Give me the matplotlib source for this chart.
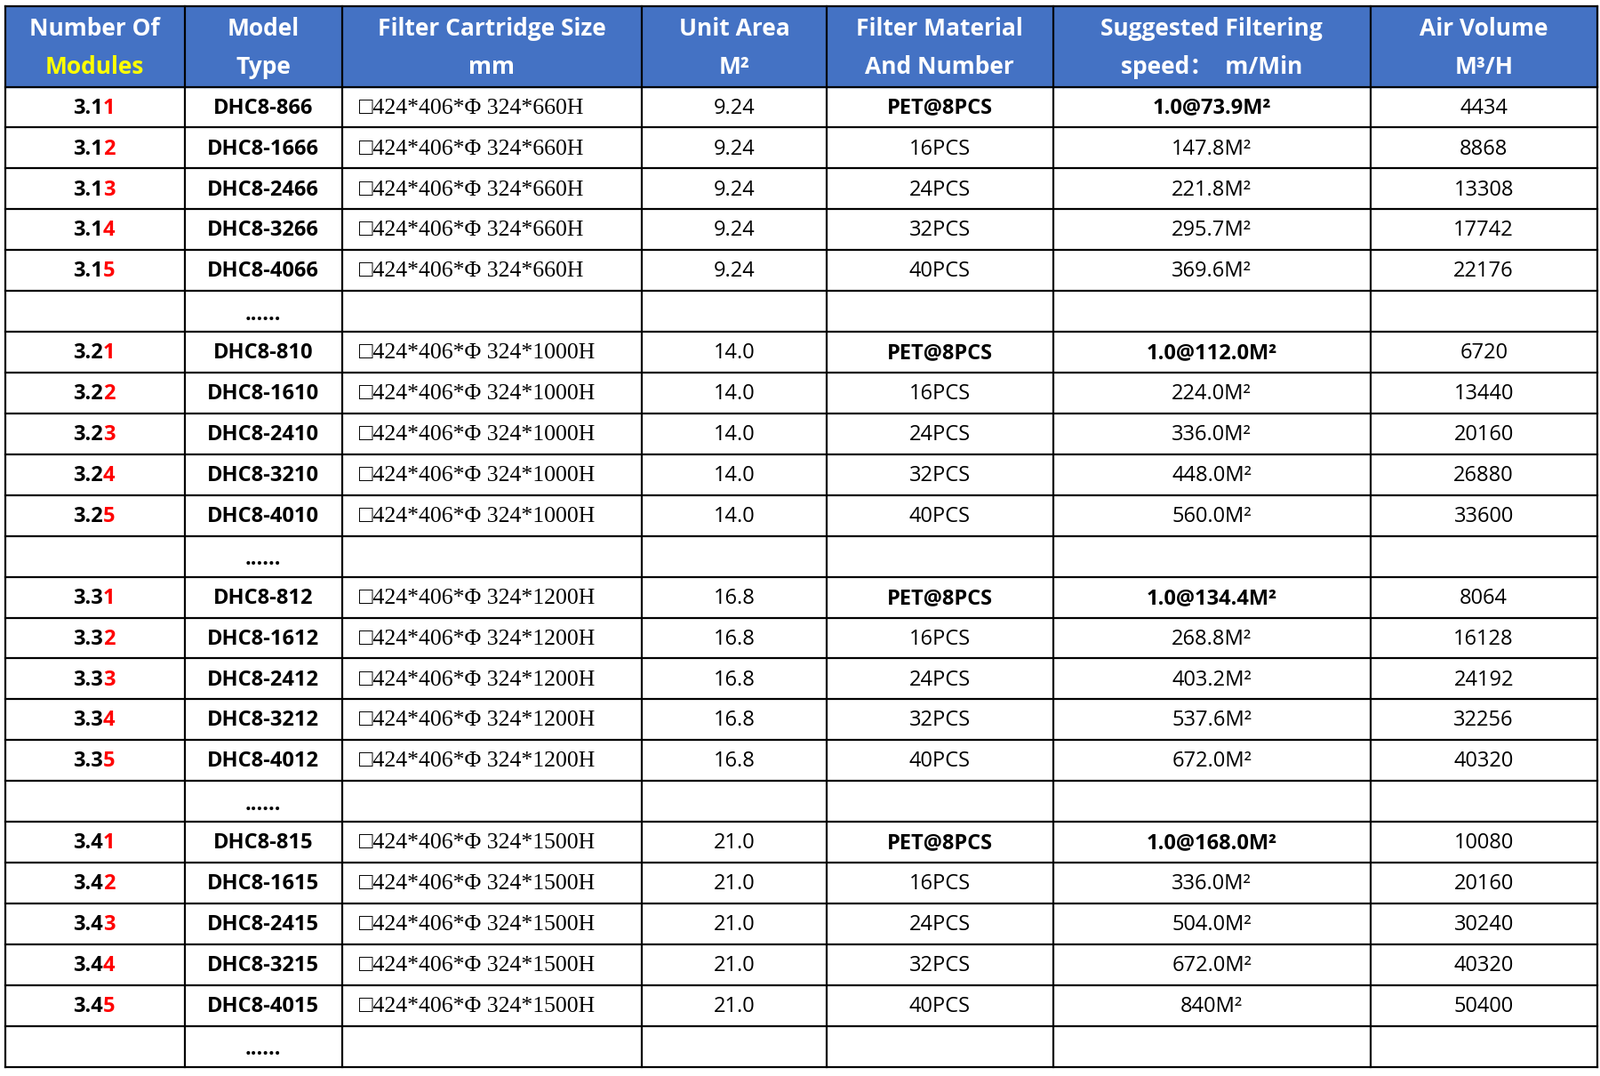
import matplotlib
matplotlib.use("Agg")
import matplotlib.pyplot as plt
from matplotlib.patches import Rectangle

headers = [["Number Of", "Modules"], ["Model", "Type"], ["Filter Cartridge Size", "mm"],
           ["Unit Area", "M²"], ["Filter Material", "And Number"],
           ["Suggested Filtering", "speed：  m/Min"], ["Air Volume", "M³/H"]]
groups = ["3.1", "3.2", "3.3", "3.4"]
suffixes = ["1", "2", "3", "4", "5"]
heights = ["660", "1000", "1200", "1500"]
unit_area = ["9.24", "14.0", "16.8", "21.0"]
model_suffix = ["66", "10", "12", "15"]
counts = ["8", "16", "24", "32", "40"]
speeds = [["1.0@73.9M²", "147.8M²", "221.8M²", "295.7M²", "369.6M²"],
          ["1.0@112.0M²", "224.0M²", "336.0M²", "448.0M²", "560.0M²"],
          ["1.0@134.4M²", "268.8M²", "403.2M²", "537.6M²", "672.0M²"],
          ["1.0@168.0M²", "336.0M²", "504.0M²", "672.0M²", "840M²"]]
air = [[4434, 8868, 13308, 17742, 22176],
       [6720, 13440, 20160, 26880, 33600],
       [8064, 16128, 24192, 32256, 40320],
       [10080, 20160, 30240, 40320, 50400]]

S = 1800 / 1568
W, H = 1568, 1210 / S
fig = plt.figure(figsize=(18, 12.1), dpi=100)
ax = fig.add_axes([0, 0, 1, 1])
ax.set_xlim(0, W); ax.set_ylim(H, 0); ax.axis("off")

xs = [5, 181, 335, 629, 810, 1032, 1343, 1565]
top, hh, rh = 6, 79, 40
ys = [top, top + hh] + [top + hh + rh * (i + 1) for i in range(24)]
bottom = ys[-1]
ax.add_patch(Rectangle((xs[0], top), xs[-1] - xs[0], hh, color="#4472C4", zorder=0))
for y in ys:
    ax.plot([xs[0], xs[-1]], [y, y], color="black", lw=1.6)
for x in xs:
    ax.plot([x, x], [top, bottom], color="black", lw=1.6)

SANS = ["Open Sans", "Noto Sans CJK SC"]
for j, (a, b) in enumerate(headers):
    cx = (xs[j] + xs[j + 1]) / 2
    ax.text(cx, top + 22, a, ha="center", va="center", color="white", fontsize=19, fontweight="bold", family=SANS)
    ax.text(cx, top + 60, b, ha="center", va="center", color="#FFFF00" if j == 0 else "white",
            fontsize=19, fontweight="bold", family=SANS)

r = 0
for g in range(4):
    for k in range(5):
        yc = ys[2 + r] - rh / 2 + 1
        ax.text(101, yc, groups[g], ha="right", va="center", fontsize=17, fontweight="bold", family=SANS)
        ax.text(101, yc, suffixes[k], ha="left", va="center", fontsize=17, fontweight="bold", family=SANS, color="#FF0000")
        c = [(xs[i] + xs[i + 1]) / 2 for i in range(7)]
        ax.text(c[1], yc, f"DHC8-{counts[k]}{model_suffix[g]}", ha="center", va="center", fontsize=17, fontweight="bold", family=SANS)
        ax.text(352, yc, f"□424*406*Φ 324*{heights[g]}H", ha="left", va="center", fontsize=18.5, family="Liberation Serif")
        ax.text(c[3], yc, unit_area[g], ha="center", va="center", fontsize=17, family=SANS)
        mat = f"PET@{counts[k]}PCS" if k == 0 else f"{counts[k]}PCS"
        ax.text(c[4], yc, mat, ha="center", va="center", fontsize=17, family=SANS, fontweight="bold" if k == 0 else "normal")
        ax.text(c[5], yc, speeds[g][k], ha="center", va="center", fontsize=17, family=SANS, fontweight="bold" if k == 0 else "normal")
        ax.text(c[6], yc, str(air[g][k]), ha="center", va="center", fontsize=17, family=SANS)
        r += 1
    yc = ys[2 + r] - rh / 2 + 3
    ax.text((xs[1] + xs[2]) / 2, yc, "......", ha="center", va="center", fontsize=17, fontweight="bold", family=SANS)
    r += 1

fig.savefig("out.png", dpi=100, facecolor="white")
